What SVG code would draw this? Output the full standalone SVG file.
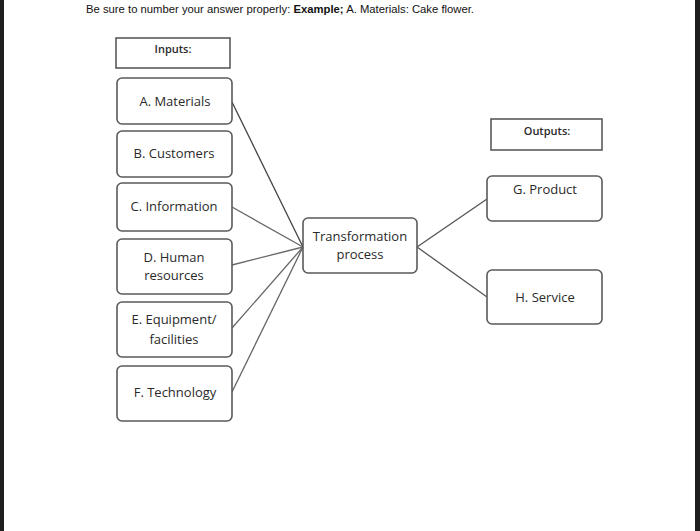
<svg xmlns="http://www.w3.org/2000/svg" width="700" height="531" viewBox="0 0 700 531">
<style>
.box{fill:#fff;stroke:#5a5a5a;stroke-width:1.6}
.lbl{font-family:"Open Sans","Noto Sans","Liberation Sans",sans-serif;font-size:13px;fill:#2a2a2a;text-anchor:middle}
.sm{font-size:11px;font-weight:600}
.ln{fill:none;stroke:#666;stroke-width:1.3}
.hdr{font-family:"Liberation Sans",Arial,sans-serif;font-size:11px;fill:#111}
</style>
<rect x="0" y="0" width="700" height="531" fill="#fff"/>
<rect x="0" y="0" width="4" height="531" fill="#1e1e1e"/>
<rect x="695" y="0" width="5" height="531" fill="#1e1e1e"/>
<text class="hdr" x="86" y="13" textLength="388" lengthAdjust="spacingAndGlyphs">Be sure to number your answer properly: <tspan font-weight="bold">Example;</tspan> A. Materials: Cake flower.</text>
<g id="connectors">
<line class="ln" x1="232" y1="102" x2="303" y2="247" style="stroke:#444"/>
<line class="ln" x1="232" y1="207" x2="303" y2="247"/>
<line class="ln" x1="232" y1="265" x2="303" y2="247"/>
<line class="ln" x1="232" y1="328" x2="303" y2="247"/>
<line class="ln" x1="232" y1="392" x2="303" y2="247"/>
<line class="ln" x1="417" y1="247" x2="487" y2="199" style="stroke:#555"/>
<line class="ln" x1="417" y1="247" x2="487" y2="297" style="stroke:#555"/>
</g>
<g id="inputs"><rect class="box" x="116" y="38" width="114" height="30"/><text class="lbl sm" x="173" y="53">Inputs:</text></g>
<g id="a"><rect class="box" x="117" y="78" width="115" height="46" rx="5"/><text class="lbl" x="175" y="106">A. Materials</text></g>
<g id="b"><rect class="box" x="117" y="131" width="115" height="46" rx="5"/><text class="lbl" x="174" y="158">B. Customers</text></g>
<g id="c"><rect class="box" x="117" y="183" width="115" height="48" rx="5"/><text class="lbl" x="174" y="211">C. Information</text></g>
<g id="d"><rect class="box" x="117" y="239" width="115" height="55" rx="5"/><text class="lbl" x="174" y="262">D. Human</text><text class="lbl" x="174" y="280">resources</text></g>
<g id="e"><rect class="box" x="117" y="302" width="115" height="55" rx="5"/><text class="lbl" x="174" y="324">E. Equipment/</text><text class="lbl" x="174" y="344">facilities</text></g>
<g id="f"><rect class="box" x="117" y="366" width="115" height="55" rx="5"/><text class="lbl" x="175" y="397">F. Technology</text></g>
<g id="transformation"><rect class="box" x="303" y="218" width="114" height="55" rx="5"/><text class="lbl" x="360" y="241">Transformation</text><text class="lbl" x="360" y="259">process</text></g>
<g id="outputs"><rect class="box" x="491" y="119" width="111" height="31"/><text class="lbl sm" x="547" y="135">Outputs:</text></g>
<g id="g"><rect class="box" x="487" y="176" width="115" height="45" rx="5"/><text class="lbl" x="545" y="194">G. Product</text></g>
<g id="h"><rect class="box" x="487" y="270" width="115" height="54" rx="5"/><text class="lbl" x="545" y="302">H. Service</text></g>
</svg>
